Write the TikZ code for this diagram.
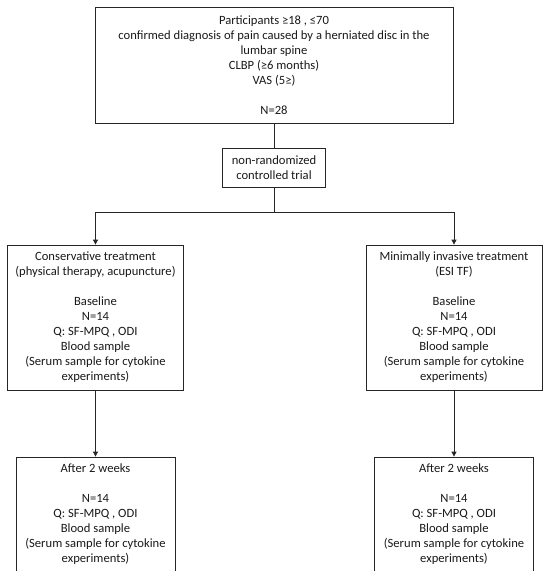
\documentclass[tikz,border=0pt]{standalone}
\usepackage{fontspec}
\setmainfont{Carlito}
\usetikzlibrary{arrows.meta}
\begin{document}
\begin{tikzpicture}[x=1pt,y=-1pt,
  box/.style={draw=black!85, line width=0.8pt, align=center, inner sep=0pt,
    font=\fontsize{12.6}{15}\selectfont, text=black!90},
  conn/.style={draw=black!85, line width=0.8pt},
  arr/.style={conn, -{Triangle[width=5pt,length=5pt]}}]
\useasboundingbox (0,0) rectangle (550,576);
\clip (0,0) rectangle (550,570.5);
\node[box, minimum width=358pt, minimum height=116pt] (top) at (274,65)
  {Participants ≥18 , ≤70\\
   confirmed diagnosis of pain caused by a herniated disc in the\\
   lumbar spine\\
   CLBP (≥6 months)\\
   VAS (5≥)\\[15pt]
   N=28};
\node[box, minimum width=103pt, minimum height=39pt] (mid) at (274,167.5)
  {non-randomized\\controlled trial};
\node[box, minimum width=176pt, minimum height=145pt] (left) at (95.5,317.5)
  {Conservative treatment\\
   (physical therapy, acupuncture)\\[15pt]
   Baseline\\
   N=14\\
   Q: SF-MPQ , ODI\\
   Blood sample\\
   (Serum sample for cytokine\\
   experiments)};
\node[box, minimum width=176pt, minimum height=145pt] (right) at (454,317.5)
  {Minimally invasive treatment\\
   (ESI TF)\\[15pt]
   Baseline\\
   N=14\\
   Q: SF-MPQ , ODI\\
   Blood sample\\
   (Serum sample for cytokine\\
   experiments)};
\node[box, minimum width=159pt, minimum height=114pt] (bl) at (95.5,514)
  {After 2 weeks\\[15pt]
   N=14\\
   Q: SF-MPQ , ODI\\
   Blood sample\\
   (Serum sample for cytokine\\
   experiments)};
\node[box, minimum width=159pt, minimum height=114pt] (br) at (454,514)
  {After 2 weeks\\[15pt]
   N=14\\
   Q: SF-MPQ , ODI\\
   Blood sample\\
   (Serum sample for cytokine\\
   experiments)};
\coordinate (j) at (274,212);
\draw[conn] (top.south) -- (mid.north);
\draw[conn] (mid.south) -- (j);
\draw[arr] (j) -| (left.north);
\draw[arr] (j) -| (right.north);
\draw[arr] (left.south) -- (bl.north);
\draw[arr] (right.south) -- (br.north);
\end{tikzpicture}
\end{document}
